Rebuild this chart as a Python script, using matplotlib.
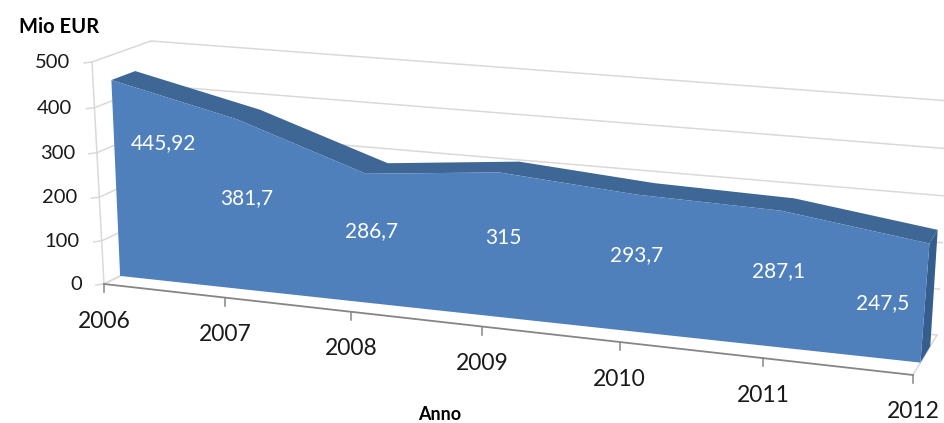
import numpy as np
import matplotlib
matplotlib.use("Agg")
import matplotlib.pyplot as plt

plt.rcParams['font.family'] = ['Lato', 'DejaVu Sans']

# chart data
years = ["2006", "2007", "2008", "2009", "2010", "2011", "2012"]
values = [445.92, 381.7, 286.7, 315, 293.7, 287.1, 247.5]
y_ticks = [0, 100, 200, 300, 400, 500]
value_labels = ["445,92", "381,7", "286,7", "315", "293,7", "287,1", "247,5"]

# where the data labels sit, in image pixels
label_px = [(163, 143), (247, 198), (372, 231), (503, 238), (637, 255), (779, 271), (883, 303)]

# the 3D box as seen in the image: (x index, value) corners for the front and back planes
FRONT = [(104, 284), (913, 375), (934, 125), (92, 62)]
BACK = [(156, 258), (937, 335), (950, 101), (151, 41)]
AREA_FRONT = 0.31
AREA_BACK = 0.72

FACE = "#4F80BC"
TOP = "#3F6796"
SIDE = "#355E8F"
GRID = "#D9D9D9"
AXIS = "#868686"


def homography(corners):
    """Solve the plane mapping (u, v) in the unit square -> image pixels."""
    src = [(0, 0), (1, 0), (1, 1), (0, 1)]
    A, b = [], []
    for (u, v), (x, y) in zip(src, corners):
        A.append([u, v, 1, 0, 0, 0, -u * x, -v * x])
        A.append([0, 0, 0, u, v, 1, -u * y, -v * y])
        b += [x, y]
    return np.append(np.linalg.solve(np.array(A, float), np.array(b, float)), 1).reshape(3, 3)


def project(i, val, depth=0.0):
    """Year index, value and depth (0 front, 1 back) to image pixels."""
    corners = [(1 - depth) * np.array(f) + depth * np.array(k) for f, k in zip(FRONT, BACK)]
    H = homography(corners)
    p = H @ np.array([np.asarray(i) / (len(years) - 1), np.asarray(val) / y_ticks[-1], np.ones_like(np.asarray(i, float))])
    return p[0] / p[2], p[1] / p[2]


fig = plt.figure(figsize=(9.44, 4.23), dpi=100)
ax = fig.add_axes([0, 0, 1, 1])
ax.set_xlim(0, 944)
ax.set_ylim(423, 0)
ax.axis("off")

idx = np.arange(len(years), dtype=float)
vals = np.array(values)
last = len(years) - 1

# back wall gridlines and left wall
for t in y_ticks:
    x, y = project(np.array([0.0, last]), np.array([t, t]), 1.0)
    ax.plot(x, y, color=GRID, lw=1.1, zorder=1)
    x, y = project(np.array([0.0, 0.0]), np.array([t, t]), 0.0)
    bx, by = project(np.array([0.0, 0.0]), np.array([t, t]), 1.0)
    ax.plot([x[0], bx[0]], [y[0], by[0]], color=GRID, lw=1.1, zorder=1)
    # tick and label on the front left edge
    ax.plot([x[0] - 8, x[0]], [y[0] + 1, y[0]], color=GRID, lw=1.1, zorder=1)
    ax.text(x[0] - 22, y[0] + 0.5, str(t), ha="right", va="center", fontsize=14.5, color="#1a1a1a")

x, y = project(np.array([0.0, 0.0]), np.array([0, y_ticks[-1]]), 0.0)
ax.plot(x, y, color=GRID, lw=1.1, zorder=1)

# floor edges
x0, y0 = project(0.0, 0.0, 0.0)
x1, y1 = project(0.0, 0.0, 1.0)
ax.plot([x0, x1], [y0, y1], color=GRID, lw=1.1, zorder=1)
x0, y0 = project(float(last), 0.0, 0.0)
x1, y1 = project(float(last), 0.0, 1.0)
ax.plot([x0, x1], [y0, y1], color=GRID, lw=1.1, zorder=1)

# x axis with ticks and year labels
x, y = project(idx, np.zeros_like(idx), 0.0)
ax.plot(x, y, color=AXIS, lw=1.3, zorder=2)
for xi, yi, year in zip(x, y, years):
    ax.plot([xi, xi], [yi, yi + 8], color=AXIS, lw=1.1, zorder=2)
    ax.text(xi, yi + 37, year, ha="center", va="center", fontsize=16.5, color="#1a1a1a")

# the area: top band, side and front face
fx, fy = project(idx, vals, AREA_FRONT)
bx, by = project(idx, vals, AREA_BACK)
ax.fill(np.r_[fx, bx[::-1]], np.r_[fy, by[::-1]], color=TOP, lw=0, zorder=3)

sx0, sy0 = project(float(last), 0.0, AREA_FRONT)
sx1, sy1 = project(float(last), 0.0, AREA_BACK)
ax.fill([sx0, fx[-1], bx[-1], sx1], [sy0, fy[-1], by[-1], sy1], color=SIDE, lw=0, zorder=3)

zx, zy = project(idx, np.zeros_like(idx), AREA_FRONT)
ax.fill(np.r_[fx, zx[::-1]], np.r_[fy, zy[::-1]], color=FACE, lw=0, zorder=4)

for (lx, ly), txt in zip(label_px, value_labels):
    ax.text(lx, ly, txt, ha="center", va="center", fontsize=15, color="white", zorder=5)

ax.text(59, 27, "Mio EUR", ha="center", va="center", fontsize=14.5, fontweight="bold", color="black")
ax.text(440, 414, "Anno", ha="center", va="center", fontsize=13, fontweight="bold", color="black")

fig.savefig("out.png", dpi=100)
